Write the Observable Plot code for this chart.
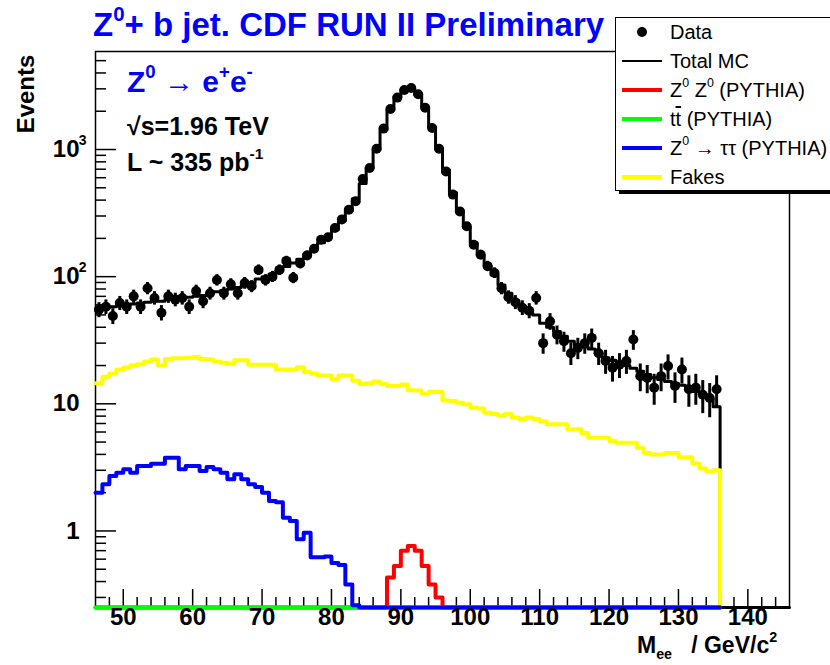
<!DOCTYPE html>
<html><head><meta charset="utf-8">
<script src="https://cdn.jsdelivr.net/npm/d3@7"></script>
<script src="https://cdn.jsdelivr.net/npm/@observablehq/plot@0.6"></script>
<style>
body{margin:0;background:#fff;}
#wrap{position:relative;width:830px;height:665px;overflow:hidden;background:#fff;font-family:"Liberation Sans",Arial,Helvetica,sans-serif;}
#chart svg{position:absolute;left:0;top:0;}
.abs{position:absolute;white-space:nowrap;line-height:1;}
.sup{font-size:0.62em;position:relative;top:-0.75em;}
.sub{font-size:0.62em;position:relative;top:0.4em;}
#legend{position:absolute;left:615px;top:17px;width:235px;height:172px;border:1.5px solid #000;background:#fff;box-shadow:4px 3px 0 0 #000;}
.row{position:absolute;left:6px;height:28px;display:flex;align-items:center;font-size:20px;color:#000;}
.row .lab{white-space:pre;}
.samp{width:40px;height:28px;position:relative;margin-right:8px;flex:none;}
.samp .ln{position:absolute;left:0;width:40px;top:12px;height:4px;}
.samp .dot{position:absolute;left:15px;top:9px;width:10px;height:10px;border-radius:50%;background:#000;}
</style></head><body>
<div id="wrap">
  <div id="chart"></div>
  <div class="abs" style="left:93px;top:8px;font-size:33px;font-weight:bold;color:#0000ff;">Z<span class="sup">0</span>+ b jet. CDF RUN II Preliminary</div>
  <div class="abs" style="left:127px;top:67px;font-size:30px;font-weight:bold;color:#0000ff;">Z<span class="sup">0</span> <span style="font-weight:normal">&rarr;</span> e<span class="sup">+</span>e<span class="sup">-</span></div>
  <div class="abs" style="left:127px;top:114px;font-size:25px;font-weight:bold;color:#000;">&radic;s=1.96 TeV</div>
  <div class="abs" style="left:127px;top:150px;font-size:25px;font-weight:bold;color:#000;">L ~ 335 pb<span class="sup">-1</span></div>
  <div class="abs" style="left:26px;top:94px;font-size:24px;font-weight:bold;color:#000;transform:translate(-50%,-50%) rotate(-90deg);">Events</div>
  <div class="abs" style="left:637px;top:634px;font-size:23px;font-weight:bold;color:#000;">M<span class="sub">ee</span>&nbsp;&nbsp; / GeV/c<span class="sup">2</span></div>
  <div id="legend">
    <div class="row" style="top:0px"><div class="samp"><div class="dot"></div></div><span class="lab">Data</span></div>
    <div class="row" style="top:29px"><div class="samp"><div class="ln" style="background:#000;height:2px;top:13px"></div></div><span class="lab">Total MC</span></div>
    <div class="row" style="top:58px"><div class="samp"><div class="ln" style="background:#ff0000"></div></div><span class="lab">Z<span class="sup">0</span> Z<span class="sup">0</span> (PYTHIA)</span></div>
    <div class="row" style="top:87px"><div class="samp"><div class="ln" style="background:#00ff00"></div></div><span class="lab">t<span style="text-decoration:overline">t</span> (PYTHIA)</span></div>
    <div class="row" style="top:116px"><div class="samp"><div class="ln" style="background:#0000ff"></div></div><span class="lab">Z<span class="sup">0</span> &rarr; &tau;&tau; (PYTHIA)</span></div>
    <div class="row" style="top:145px"><div class="samp"><div class="ln" style="background:#ffff00"></div></div><span class="lab">Fakes</span></div>
  </div>
</div>
<script>
// Bin low edges of M_ee (GeV/c^2), 1 GeV bins
const massLow = [
  46,47,48,49,50,51,52,53,54,55,
  56,57,58,59,60,61,62,63,64,65,
  66,67,68,69,70,71,72,73,74,75,
  76,77,78,79,80,81,82,83,84,85,
  86,87,88,89,90,91,92,93,94,95,
  96,97,98,99,100,101,102,103,104,105,
  106,107,108,109,110,111,112,113,114,115,
  116,117,118,119,120,121,122,123,124,125,
  126,127,128,129,130,131,132,133,134,135];
const binWidth = 1;

const dataEvents = [
  55, 58, 49, 62, 58, 70, 58, 81, 68, 52,
  70, 66, 68, 58, 77, 64, 74, 94, 74, 87,
  74, 89, 84, 113, 94, 100, 113, 133, 98, 127,
  147, 166, 195, 204, 241, 282, 336, 392, 586, 715,
  1015, 1460, 2080, 2560, 2940, 3050, 2720, 2130, 1475, 1015,
  673, 442, 326, 249, 178, 149, 121, 107, 81, 69,
  63, 57, 54, 68, 30, 44.5, 35, 31, 25, 27.5,
  30, 33, 25, 21.7, 19.2, 20.3, 21.7, 32, 16.5, 16,
  13.4, 16.5, 19.8, 13.8, 18.6, 13, 13.4, 11.8, 11.1, 13];

const totalMC = [
  56, 57, 58, 59, 60, 61, 62, 63, 64, 64,
  66, 67, 68, 69, 70, 71, 74, 76, 78, 80,
  82, 86, 90, 96, 100, 105, 112, 120, 128, 137,
  150, 165, 185, 205, 235, 275, 330, 410, 540, 720,
  1000, 1430, 2050, 2600, 2950, 3000, 2700, 2150, 1500, 1020,
  690, 460, 330, 245, 185, 148, 122, 103, 86, 74,
  65, 58, 52, 50, 43, 40, 37, 34, 31, 29,
  28, 27, 25, 23, 22, 21, 20, 19, 18, 17,
  16, 15.5, 15, 14.5, 14, 13.5, 12.5, 11.8, 11, 9.5];

const fakes = [
  14.5, 16.3, 17.3, 18.6, 19.3, 20, 20.5, 21.5, 22.3, 20,
  22.5, 22.8, 22.8, 23, 23.3, 22.5, 22.3, 21.5, 21, 20.7,
  22, 22, 20.3, 20.3, 20.3, 20.3, 18.6, 18.6, 18.6, 19.4,
  17.8, 17.3, 16.7, 16.7, 15.7, 16.7, 16.7, 15.2, 14.3, 14.5,
  15, 14.3, 13.8, 13.8, 14.2, 12.8, 12.7, 12, 12.4, 12.4,
  10.6, 10.5, 10.2, 9.9, 9.3, 9.2, 8.5, 8.3, 8.1, 8.3,
  7.8, 7.6, 7.8, 7.6, 7.3, 6.9, 6.9, 6.9, 6.3, 6.3,
  5.9, 5.4, 5.4, 5.4, 5.1, 4.95, 4.95, 4.95, 4.5, 4.1,
  4.0, 4.0, 4.1, 4.1, 3.8, 3.8, 3.4, 3.1, 2.95, 3.0];

const zzPythia = [
  0, 0, 0, 0, 0, 0, 0, 0, 0, 0,
  0, 0, 0, 0, 0, 0, 0, 0, 0, 0,
  0, 0, 0, 0, 0, 0, 0, 0, 0, 0,
  0, 0, 0, 0, 0, 0, 0, 0, 0, 0,
  0, 0, 0.43, 0.53, 0.70, 0.76, 0.70, 0.53, 0.38, 0.30,
  0, 0, 0, 0, 0, 0, 0, 0, 0, 0,
  0, 0, 0, 0, 0, 0, 0, 0, 0, 0,
  0, 0, 0, 0, 0, 0, 0, 0, 0, 0,
  0, 0, 0, 0, 0, 0, 0, 0, 0, 0];

const ttbarPythia = [
  0.04, 0.04, 0.05, 0.05, 0.05, 0.06, 0.06, 0.06, 0.07, 0.07,
  0.07, 0.08, 0.08, 0.08, 0.09, 0.09, 0.09, 0.10, 0.10, 0.10,
  0.10, 0.11, 0.11, 0.11, 0.11, 0.12, 0.12, 0.12, 0.12, 0.12,
  0.13, 0.13, 0.13, 0.13, 0.13, 0.13, 0.13, 0.14, 0.14, 0.14,
  0.14, 0.14, 0.14, 0.14, 0.14, 0.14, 0.14, 0.14, 0.14, 0.14,
  0.14, 0.14, 0.14, 0.13, 0.13, 0.13, 0.13, 0.13, 0.13, 0.13,
  0.12, 0.12, 0.12, 0.12, 0.12, 0.11, 0.11, 0.11, 0.11, 0.10,
  0.10, 0.10, 0.10, 0.09, 0.09, 0.09, 0.09, 0.08, 0.08, 0.08,
  0.08, 0.07, 0.07, 0.07, 0.07, 0.06, 0.06, 0.06, 0.06, 0.05];

const zTauTau = [
  2.0, 2.33, 2.7, 2.87, 3.05, 2.87, 3.24, 3.24, 3.38, 3.38,
  3.76, 3.76, 3.05, 3.24, 3.24, 2.96, 3.18, 3.05, 2.87, 2.55,
  2.79, 2.55, 2.33, 2.22, 2.0, 1.72, 1.68, 1.27, 1.2, 0.86,
  0.97, 0.62, 0.62, 0.63, 0.56, 0.54, 0.38, 0.26, 0, 0,
  0, 0, 0, 0, 0, 0, 0, 0, 0, 0,
  0, 0, 0, 0, 0, 0, 0, 0, 0, 0,
  0, 0, 0, 0, 0, 0, 0, 0, 0, 0,
  0, 0, 0, 0, 0, 0, 0, 0, 0, 0,
  0, 0, 0, 0, 0, 0, 0, 0, 0, 0];

// Axis definitions
const xDomain = [46, 146];
const yDomain = [0.25, 5900];
const xMajor = [50, 60, 70, 80, 90, 100, 110, 120, 130, 140];
const xMinor = [48, 52, 54, 56, 58, 62, 64, 66, 68, 72, 74, 76, 78, 82, 84, 86, 88,
  92, 94, 96, 98, 102, 104, 106, 108, 112, 114, 116, 118, 122, 124, 126, 128,
  132, 134, 136, 138, 142, 144];
const yMajor = [1, 10, 100, 1000];
const yMajorLabel = ["1", "10", "10", "10"];
const yMajorExp = ["", "", "2", "3"];
const yMinor = [0.3, 0.4, 0.5, 0.6, 0.7, 0.8, 0.9, 2, 3, 4, 5, 6, 7, 8, 9,
  20, 30, 40, 50, 60, 70, 80, 90, 200, 300, 400, 500, 600, 700, 800, 900,
  2000, 3000, 4000, 5000];

const W = 830, H = 665, mL = 95, mR = 41, mT = 51, mB = 58;
const plotW = W - mL - mR, plotH = H - mT - mB;
const yMin = yDomain[0];

function histLine(values, tailTo) {
  const pts = values.map((v, i) => ({m: massLow[i], v: Math.max(v, yMin)}));
  const end = massLow[massLow.length - 1] + binWidth;
  pts.push({m: end, v: yMin});
  if (tailTo != null) pts.push({m: tailTo, v: yMin});
  return pts;
}
const dataRows = dataEvents.map((v, i) => ({m: massLow[i] + binWidth / 2, v}));
const expRows = yMajor.map((y, i) => ({y, e: yMajorExp[i]})).filter(d => d.e);
const yLabRows = yMajor.map((y, i) => ({y, t: yMajorLabel[i]}));

const font = "bold";
const chart = Plot.plot({
  width: W, height: H,
  marginLeft: mL, marginRight: mR, marginTop: mT, marginBottom: mB,
  style: "font-family:'Liberation Sans',Arial,Helvetica,sans-serif;background:transparent;overflow:visible;",
  x: {domain: xDomain, axis: null},
  y: {type: "log", domain: yDomain, axis: null},
  marks: [
    Plot.frame({stroke: "#000", strokeWidth: 1.5}),
    Plot.tickX(xMajor, {x: d => d, insetTop: plotH - 18, stroke: "#000", strokeWidth: 1.5}),
    Plot.tickX(xMinor, {x: d => d, insetTop: plotH - 10, stroke: "#000", strokeWidth: 1.5}),
    Plot.tickY(yMajor, {y: d => d, insetRight: plotW - 21, stroke: "#000", strokeWidth: 1.5}),
    Plot.tickY(yMinor, {y: d => d, insetRight: plotW - 11, stroke: "#000", strokeWidth: 1.5}),
    Plot.line(histLine(totalMC, xDomain[1]), {x: "m", y: "v", curve: "step-after", stroke: "#000", strokeWidth: 3}),
    Plot.line(histLine(fakes), {x: "m", y: "v", curve: "step-after", stroke: "#ffff00", strokeWidth: 4}),
    Plot.line(histLine(zzPythia), {x: "m", y: "v", curve: "step-after", stroke: "#ff0000", strokeWidth: 4}),
    Plot.line(histLine(ttbarPythia), {x: "m", y: "v", curve: "step-after", stroke: "#00ff00", strokeWidth: 4}),
    Plot.line(histLine(zTauTau), {x: "m", y: "v", curve: "step-after", stroke: "#0000ff", strokeWidth: 4}),
    Plot.ruleX(dataRows, {x: "m", y1: d => d.v - Math.sqrt(d.v), y2: d => d.v + Math.sqrt(d.v), stroke: "#000", strokeWidth: 3}),
    Plot.dot(dataRows, {x: "m", y: "v", r: 5, fill: "#000", stroke: "none"}),
    Plot.text(xMajor, {x: d => d, frameAnchor: "bottom", dy: 17, text: d => String(d), fontSize: 24, fontWeight: font, fill: "#000"}),
    Plot.text(yLabRows, {y: "y", frameAnchor: "left", dx: -16, textAnchor: "end", text: "t", fontSize: 24, fontWeight: font, fill: "#000"}),
    Plot.text(expRows, {y: "y", frameAnchor: "left", dx: -9, dy: -9, textAnchor: "end", text: "e", fontSize: 14, fontWeight: font, fill: "#000"})
  ]
});
document.getElementById("chart").appendChild(chart);
</script>
</body></html>
